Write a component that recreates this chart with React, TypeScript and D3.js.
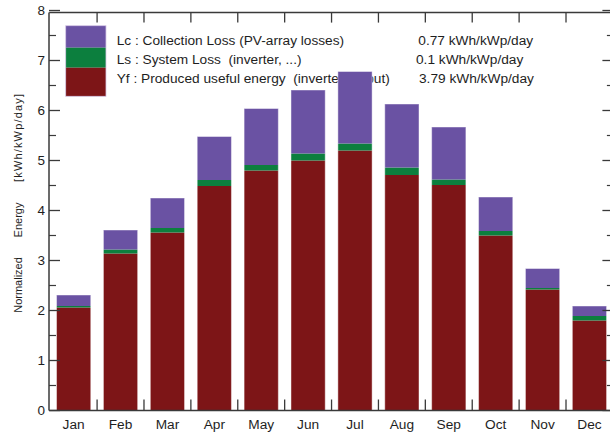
import React from "react";
import * as d3 from "d3";

const months = ["Jan", "Feb", "Mar", "Apr", "May", "Jun", "Jul", "Aug", "Sep", "Oct", "Nov", "Dec"];
const yf = [2.06, 3.14, 3.56, 4.49, 4.80, 5.00, 5.20, 4.71, 4.51, 3.50, 2.42, 1.80];
const ls = [0.03, 0.08, 0.09, 0.12, 0.11, 0.14, 0.14, 0.15, 0.11, 0.09, 0.03, 0.09];
const lc = [0.22, 0.39, 0.60, 0.87, 1.13, 1.27, 1.44, 1.27, 1.05, 0.68, 0.39, 0.20];
const yTicks = [0, 1, 2, 3, 4, 5, 6, 7, 8];
const yMinor = [0.5, 1.5, 2.5, 3.5, 4.5, 5.5, 6.5, 7.5];

const seriesKeys = ["Yf", "Ls", "Lc"];
const seriesColors = { Yf: "#7d1517", Ls: "#0c7f3e", Lc: "#6a52a3" };
const legendLabels = [
  "Lc : Collection Loss (PV-array losses)",
  "Ls : System Loss  (inverter, ...)",
  "Yf : Produced useful energy  (inverter output)",
];
const legendKeys = ["Lc", "Ls", "Yf"];
const legendValues = ["0.77 kWh/kWp/day", "0.1 kWh/kWp/day", "3.79 kWh/kWp/day"];

const FONT = "'Liberation Sans', Arial, sans-serif";

export default function App() {
  const left = 50.2, right = 612.9, top = 12.6, bottom = 410.5;
  const x = d3.scaleBand<string>().domain(months).range([left, right]).paddingInner(0.27).paddingOuter(0.135);
  const y = d3.scaleLinear().domain([0, 8]).range([bottom, 10.5]);

  const table = months.map((m, i) => ({ month: m, Yf: yf[i], Ls: ls[i], Lc: lc[i] }));
  const stack = d3.stack<any>().keys(seriesKeys)(table);

  const step = x.step();
  const boundaries = d3.range(1, 13).map((k) => left + k * step);

  const axisColor = "#3a3a3a";
  const textColor = "#1e1e1e";

  // legend geometry
  const lgX = 65.7, lgW = 40.3;
  const lgRows = [
    [25.7, 47.7],
    [47.7, 67.7],
    [67.7, 96.3],
  ];
  const lgTextY = [44.8, 64.1, 83.1];
  const lgValX = [418.3, 416, 419];

  return (
    <svg width={610} height={435} style={{ position: "absolute", left: 0, top: 0, background: "#fff" }}>
      <rect x={0} y={0} width={610} height={435} fill="#fff" />

      {/* legend */}
      {legendKeys.map((k, i) => (
        <rect key={"lb" + k} x={lgX} y={lgRows[i][0]} width={lgW} height={lgRows[i][1] - lgRows[i][0]} fill={(seriesColors as any)[k]} />
      ))}
      <rect x={lgX} y={lgRows[0][0]} width={lgW} height={lgRows[2][1] - lgRows[0][0]} fill="none" stroke="#d6c9e6" strokeWidth={0.8} />
      {legendLabels.map((t, i) => (
        <text key={"lt" + i} x={116.7} y={lgTextY[i]} fontFamily={FONT} fontSize={13.7} fill={textColor} style={{ whiteSpace: "pre" }}>
          {t}
        </text>
      ))}
      {legendValues.map((t, i) => (
        <text key={"lv" + i} x={lgValX[i]} y={lgTextY[i]} fontFamily={FONT} fontSize={13.7} fill={textColor}>
          {t}
        </text>
      ))}

      {/* bars */}
      {stack.map((s) =>
        s.map((d, i) => (
          <rect
            key={s.key + i}
            x={x(months[i])}
            y={y(d[1])}
            width={x.bandwidth()}
            height={y(d[0]) - y(d[1])}
            fill={(seriesColors as any)[s.key]}
          />
        ))
      )}
      {table.map((d, i) => (
        <rect
          key={"o" + i}
          x={x(d.month)}
          y={y(d.Yf + d.Ls + d.Lc)}
          width={x.bandwidth()}
          height={y(0) - y(d.Yf + d.Ls + d.Lc)}
          fill="none"
          stroke="#ffffff"
          strokeOpacity={0.45}
          strokeWidth={1}
        />
      ))}

      {/* frame */}
      <line x1={left - 1} x2={614} y1={top} y2={top} stroke={axisColor} strokeWidth={1.5} />
      <line x1={left - 1} x2={614} y1={bottom} y2={bottom} stroke={axisColor} strokeWidth={1.5} />
      <line x1={49} x2={49} y1={top} y2={bottom} stroke={axisColor} strokeWidth={1.5} />
      <line x1={right} x2={right} y1={top} y2={bottom} stroke={axisColor} strokeWidth={1.5} />

      {/* x ticks */}
      {boundaries.map((bx, i) => (
        <g key={"xt" + i}>
          <line x1={bx} x2={bx} y1={top} y2={top + 10} stroke={axisColor} strokeWidth={1.3} />
          <line x1={bx} x2={bx} y1={bottom} y2={bottom - 11} stroke={axisColor} strokeWidth={1.3} />
        </g>
      ))}

      {/* y ticks */}
      {yTicks.map((v) => (
        <g key={"yt" + v}>
          <line x1={49} x2={60} y1={y(v)} y2={y(v)} stroke={axisColor} strokeWidth={1.3} />
          <line x1={right} x2={right - 10.5} y1={y(v)} y2={y(v)} stroke={axisColor} strokeWidth={1.3} />
          <text x={45} y={y(v) + 4.8} textAnchor="end" fontFamily={FONT} fontSize={13.5} fill={textColor}>
            {v}
          </text>
        </g>
      ))}
      {yMinor.map((v) => (
        <g key={"ym" + v}>
          <line x1={49} x2={56} y1={y(v)} y2={y(v)} stroke={axisColor} strokeWidth={1.2} />
          <line x1={right} x2={right - 6} y1={y(v)} y2={y(v)} stroke={axisColor} strokeWidth={1.2} />
        </g>
      ))}

      {/* month labels */}
      {months.map((m) => (
        <text key={"ml" + m} x={(x(m) as number) + x.bandwidth() / 2} y={429} textAnchor="middle" fontFamily={FONT} fontSize={13.7} fill={textColor}>
          {m}
        </text>
      ))}

      {/* y axis title */}
      <g transform="translate(22,0) rotate(-90)">
        <text x={-285} y={0} textAnchor="middle" fontFamily={FONT} fontSize={11} fill={textColor}>Normalized</text>
        <text x={-220} y={0} textAnchor="middle" fontFamily={FONT} fontSize={11} fill={textColor}>Energy</text>
        <text x={-138} y={0} textAnchor="middle" fontFamily={FONT} fontSize={11} fill={textColor} textLength={88}>[kWh/kWp/day]</text>
      </g>
    </svg>
  );
}
